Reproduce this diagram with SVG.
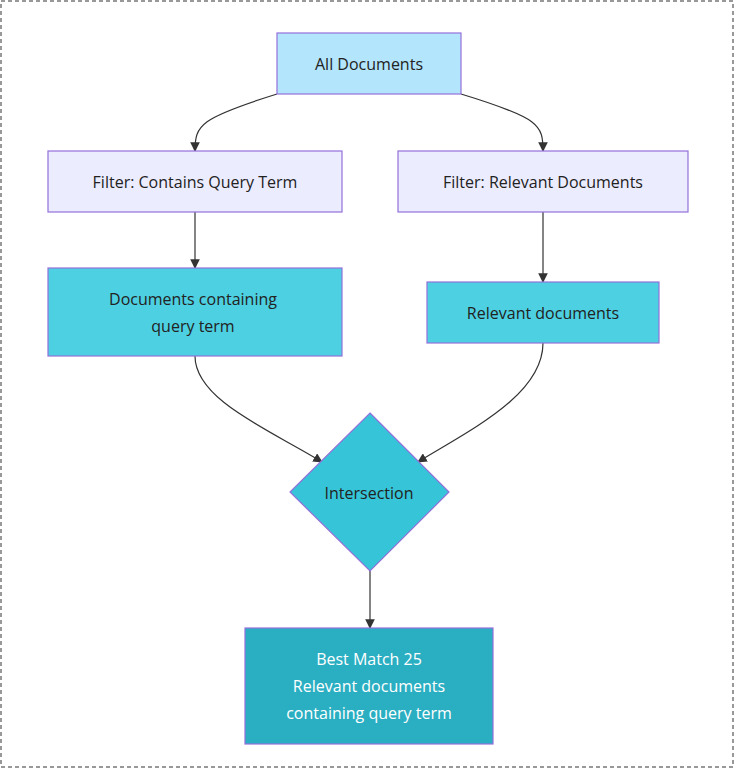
<svg xmlns="http://www.w3.org/2000/svg" width="735" height="769" viewBox="0 0 735 769">
<style>
text{font-family:"Open Sans","Liberation Sans",sans-serif;font-size:16px;fill:#222;text-anchor:middle;dominant-baseline:central}
.n{stroke:#9370db;stroke-width:1.2}
.e{fill:none;stroke:#333;stroke-width:1.2;marker-end:url(#a)}
</style>
<defs><marker id="a" viewBox="0 0 10 10" refX="9" refY="5" markerWidth="8" markerHeight="8" orient="auto"><path d="M0,0L10,5L0,10z" fill="#333"/></marker></defs>
<rect x="1" y="1" width="732" height="766" fill="#fff" stroke="#333" stroke-dasharray="4,3"/>
<g id="connectors">
<path class="e" d="M277,94 C200,118 195,125 195,151"/>
<path class="e" d="M461,94 C540,118 543,125 543,151"/>
<path class="e" d="M195,212 V268"/>
<path class="e" d="M543,212 V282"/>
<path class="e" d="M195,356 C195,400 270,430 322,462"/>
<path class="e" d="M543,343 C543,395 470,430 418,462"/>
<path class="e" d="M370,571 V628"/>
</g>
<g id="all"><rect class="n" x="277" y="33" width="184" height="61" fill="#b3e5fc"/><text x="369" y="64">All Documents</text></g>
<g id="f1"><rect class="n" x="48" y="151" width="294" height="61" fill="#ececff"/><text x="195" y="182">Filter: Contains Query Term</text></g>
<g id="f2"><rect class="n" x="398" y="151" width="290" height="61" fill="#ececff"/><text x="543" y="182">Filter: Relevant Documents</text></g>
<g id="d1"><rect class="n" x="48" y="268" width="294" height="88" fill="#4dd0e1"/><text x="193" y="299">Documents containing</text><text x="193" y="326">query term</text></g>
<g id="d2"><rect class="n" x="427" y="282" width="232" height="61" fill="#4dd0e1"/><text x="543" y="313">Relevant documents</text></g>
<g id="x"><path class="n" d="M370,413 L449,492 L370,571 L290,492z" fill="#36c5d8"/><text x="369" y="493">Intersection</text></g>
<g id="b"><rect class="n" x="245" y="628" width="248" height="116" fill="#2aaec2"/><text x="369" y="659" style="fill:#fff">Best Match 25</text><text x="369" y="686" style="fill:#fff">Relevant documents</text><text x="369" y="713" style="fill:#fff">containing query term</text></g>
</svg>
